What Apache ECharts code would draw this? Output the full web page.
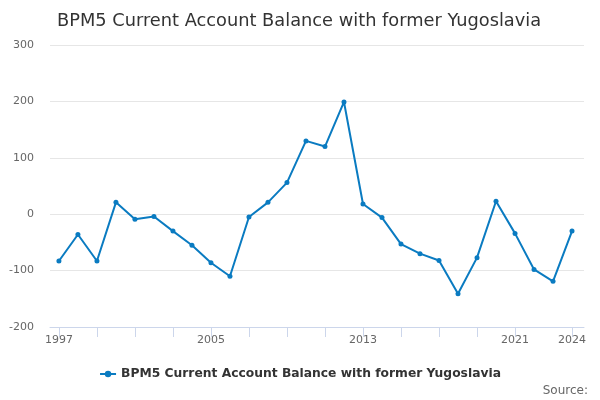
<!DOCTYPE html>
<html>
<head>
<meta charset="utf-8">
<style>
  html, body { margin: 0; padding: 0; background: #fff; }
  #main { width: 600px; height: 400px; }
</style>
<script src="https://cdn.jsdelivr.net/npm/echarts@6/dist/echarts.min.js"></script>
</head>
<body>
<div id="main"></div>
<script>
// data
var years = [1997, 1998, 1999, 2000, 2001, 2002, 2003, 2004, 2005, 2006, 2007, 2008, 2009, 2010,
  2011, 2012, 2013, 2014, 2015, 2016, 2017, 2018, 2019, 2020, 2021, 2022, 2023, 2024];
var balance = [-83, -36, -83, 21, -9, -4, -30, -55, -86, -110, -5, 21, 56, 130,
  120, 199, 18, -6, -53, -70, -82, -141, -77, 23, -34, -98, -119, -30];
var tickYears = [1997, 1999, 2001, 2003, 2005, 2007, 2009, 2011, 2013, 2015, 2017, 2019, 2021, 2024];
var labelYears = [1997, 2005, 2013, 2021, 2024];
var seriesName = "BPM5 Current Account Balance with former Yugoslavia";

var font = "DejaVu Sans";
var myChart = echarts.init(document.getElementById("main"));

var option = {
  animation: false,
  textStyle: { fontFamily: font },
  title: [
    {
      text: "BPM5 Current Account Balance with former Yugoslavia",
      left: 52,
      top: 7,
      textStyle: { fontFamily: font, fontSize: 17.8, fontWeight: "normal", color: "#333" },
    },
    {
      text: "Source:",
      right: 7,
      top: 380,
      textStyle: { fontFamily: font, fontSize: 12, fontWeight: "normal", color: "#666" },
    },
  ],
  legend: {
    data: [seriesName],
    left: "center",
    top: 363,
    itemWidth: 16,
    itemHeight: 8,
    textStyle: { fontFamily: font, fontSize: 12.3, fontWeight: "bold", color: "#333" },
  },
  grid: {
    left: 50,
    right: 16,
    top: 45,
    bottom: 73,
    containLabel: false,
  },
  xAxis: {
    type: "value",
    min: 1996.53,
    max: 2024.63,
    splitLine: { show: false },
    axisLine: { show: true, onZero: false, lineStyle: { color: "#ccd6eb" } },
    axisTick: {
      show: true,
      length: 10,
      customValues: tickYears,
      lineStyle: { color: "#ccd6eb" },
    },
    axisLabel: {
      customValues: labelYears,
      color: "#666",
      fontSize: 11,
      margin: 8,
      formatter: function (v) { return String(v); },
    },
  },
  yAxis: {
    type: "value",
    min: -200,
    max: 300,
    interval: 100,
    axisLine: { show: false },
    axisTick: { show: false },
    axisLabel: { color: "#666", fontSize: 11, margin: 16 },
    splitLine: { lineStyle: { color: "#e6e6e6" } },
  },
  series: [
    {
      name: seriesName,
      type: "line",
      data: years.map(function (y, i) { return [y, balance[i]]; }),
      symbol: "circle",
      symbolSize: 5,
      showSymbol: true,
      lineStyle: { color: "#0a7bc1", width: 2 },
      itemStyle: { color: "#0a7bc1" },
    },
  ],
};

myChart.setOption(option);
</script>
</body>
</html>
